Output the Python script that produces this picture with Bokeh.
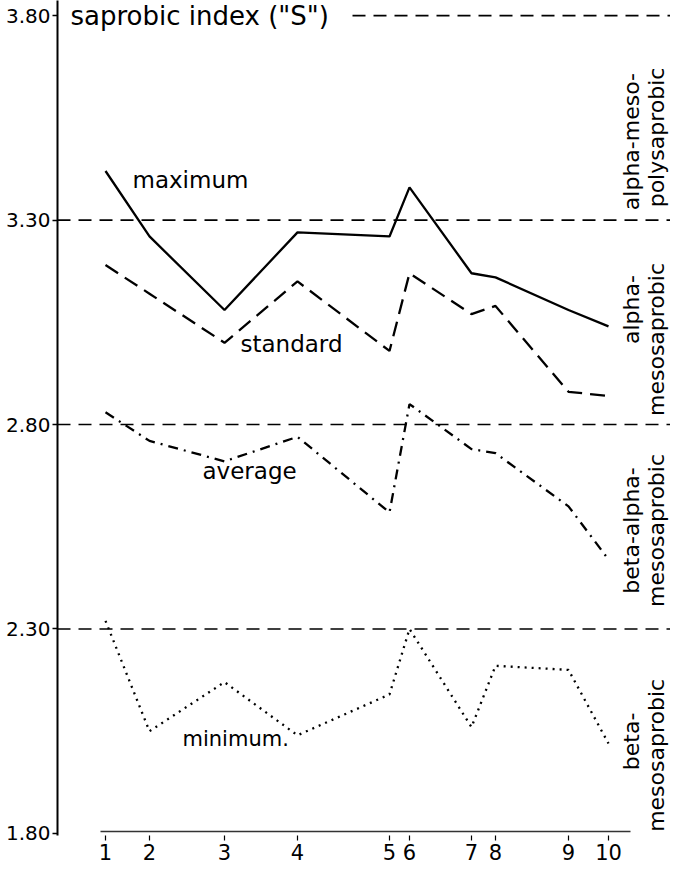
from bokeh.plotting import figure
from bokeh.models import FixedTicker, Span, Label, Range1d, ColumnDataSource
from bokeh.embed import file_html
from bokeh.resources import INLINE
import math

# ---- data ----
stations = ["1", "2", "3", "4", "5", "6", "7", "8", "9", "10"]
station_km = [0.0, 4.4, 11.9, 19.2, 28.4, 30.4, 36.6, 39.0, 46.3, 50.3]
s_maximum = [3.42, 3.26, 3.08, 3.27, 3.26, 3.38, 3.17, 3.16, 3.08, 3.04]
s_standard = [3.19, 3.12, 3.00, 3.15, 2.98, 3.17, 3.07, 3.09, 2.88, 2.87]
s_average = [2.83, 2.76, 2.71, 2.77, 2.585, 2.85, 2.74, 2.73, 2.60, 2.47]
s_minimum = [2.32, 2.05, 2.17, 2.04, 2.14, 2.30, 2.06, 2.21, 2.20, 2.02]
zone_bounds = [3.30, 2.80, 2.30]
y_ticks = [1.80, 2.30, 2.80, 3.30, 3.80]
zone_line1 = ["alpha-meso-", "alpha-", "beta-alpha-", "beta-"]
zone_line2 = ["polysaprobic", "mesosaprobic", "mesosaprobic", "mesosaprobic"]
zone_y1 = [3.492, 3.081, 2.541, 2.025]
zone_y2 = [3.502, 3.008, 2.541, 1.991]

FONT = "DejaVu Sans"

p = figure(width=670, height=871, output_backend="svg", toolbar_location=None,
           x_range=Range1d(-4.8, 56.5), y_range=Range1d(1.795, 3.837),
           min_border_left=57, min_border_right=0, min_border_top=0,
           min_border_bottom=36)
p.outline_line_color = None
p.grid.visible = False
p.background_fill_color = "white"
p.border_fill_color = "white"

# y axis
yax = p.yaxis[0]
yax.ticker = FixedTicker(ticks=y_ticks)
yax.major_label_overrides = {t: f"{t:.2f}" for t in y_ticks}
yax.major_tick_in = 0
yax.major_tick_out = 5
yax.minor_tick_line_color = None
yax.axis_line_width = 2
yax.major_tick_line_width = 1.5
yax.major_label_text_font = FONT
yax.major_label_text_font_size = "20px"
yax.major_label_text_color = "black"
yax.major_label_standoff = 2

# x axis
xax = p.xaxis[0]
xax.ticker = FixedTicker(ticks=station_km)
xax.major_label_overrides = {k: s for k, s in zip(station_km, stations)}
xax.axis_line_color = None
xax.major_tick_in = 0
xax.major_tick_out = 5
xax.minor_tick_line_color = None
xax.major_tick_line_width = 1.2
xax.major_label_text_font = FONT
xax.major_label_text_font_size = "21px"
xax.major_label_text_color = "black"
xax.major_label_standoff = 3

p.segment(x0=[station_km[0] - 0.5], y0=[1.805], x1=[station_km[-1] + 2.2], y1=[1.805],
          line_color="#333333", line_width=1.5)

# zone boundaries
for b in zone_bounds:
    p.add_layout(Span(location=b, dimension="width", line_color="black",
                      line_width=1.6, line_dash="13 8"))
p.segment(x0=[24.7], y0=[3.80], x1=[56.5], y1=[3.80], line_color="black",
          line_width=1.6, line_dash="13 8")

# series
src = ColumnDataSource(dict(x=station_km, mx=s_maximum, st=s_standard,
                            av=s_average, mn=s_minimum))
p.line("x", "mx", source=src, line_color="black", line_width=2.3)
p.line("x", "st", source=src, line_color="black", line_width=2.3, line_dash="15 8")
p.line("x", "av", source=src, line_color="black", line_width=2.3, line_dash="10 6 2 6")
p.line("x", "mn", source=src, line_color="black", line_width=2.3, line_dash="2 5")

def lab(x, y, t, size="23px", **kw):
    kw.setdefault("text_baseline", "middle")
    p.add_layout(Label(x=x, y=y, text=t, text_font=FONT, text_font_size=size,
                       text_color="black", **kw))

lab(-3.5, 3.80, 'saprobic index ("S")', size="26px")
lab(2.7, 3.397, "maximum")
lab(13.5, 2.996, "standard")
lab(9.7, 2.687, "average")
lab(7.7, 2.03, "minimum.", size="21px")

# zone names (vertical)
for t1, t2, y1, y2 in zip(zone_line1, zone_line2, zone_y1, zone_y2):
    lab(52.6, y1, t1, size="22px", angle=math.pi / 2, text_align="center",
        text_baseline="alphabetic")
    lab(55.1, y2, t2, size="22px", angle=math.pi / 2, text_align="center",
        text_baseline="alphabetic")

open("out.html", "w").write(file_html(p, INLINE))
